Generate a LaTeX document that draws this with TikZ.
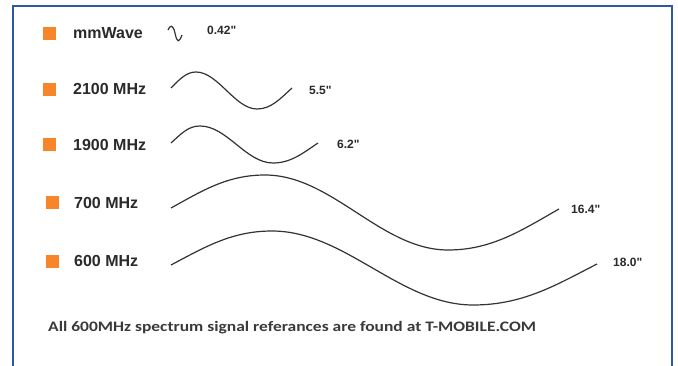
\documentclass[tikz,border=0pt]{standalone}
\usepackage{fontspec}
\setmainfont{Liberation Sans}
\newfontfamily\footfont[FakeStretch=1.205]{Carlito}
\newfontfamily\measfont[Ligatures=TeXOff]{Liberation Sans}
\definecolor{frameblue}{HTML}{2E58A6}
\definecolor{bulletorange}{HTML}{F7862A}
\definecolor{labgray}{HTML}{2A2A2A}
\definecolor{wavegray}{HTML}{333333}
\definecolor{footgray}{HTML}{3A3A3A}
\begin{document}
\begin{tikzpicture}[x=1pt,y=-1pt,
  bullet/.style={fill=bulletorange,draw=none,minimum size=13pt,inner sep=0pt},
  lab/.style={font=\bfseries\fontsize{16}{18}\selectfont,text=labgray,anchor=west,inner sep=0pt},
  meas/.style={font=\measfont\bfseries\fontsize{12}{14}\selectfont,text=labgray,anchor=west,inner sep=0pt},
  foot/.style={font=\footfont\bfseries\fontsize{14.5}{17}\selectfont,text=footgray,anchor=base west,inner sep=0pt},
  wave/.style={draw=wavegray,line width=1.2pt},
  frame/.style={draw=frameblue,line width=2.5pt}]
\useasboundingbox (0,0) rectangle (678,366);
\fill[white] (0,0) rectangle (678,366);
% frame
\draw[frame] (13,372) -- (13,6) -- (672,6) -- (672,372);
% bullets and labels
\node[bullet] (b1) at (49.5,33.5) {};
\node[lab] (l1) at (73,33.5) {mmWave};
\node[bullet] (b2) at (49.5,89.5) {};
\node[lab] (l2) at (73,89) {2100 MHz};
\node[bullet] (b3) at (49.5,144.5) {};
\node[lab] (l3) at (73,144.5) {1900 MHz};
\node[bullet] (b4) at (52.5,202.5) {};
\node[lab] (l4) at (74,202.5) {700 MHz};
\node[bullet] (b5) at (52.5,261.5) {};
\node[lab] (l5) at (74,261) {600 MHz};
% measurements
\node[meas] (m1) at (207,30.5) {0.42"};
\node[meas] (m2) at (309,90) {5.5"};
\node[meas] (m3) at (337,144) {6.2"};
\node[meas] (m4) at (571,209) {16.4"};
\node[meas] (m5) at (613,262) {18.0"};
% waves
\draw[wave] (168,30) .. controls (170,25) and (173,24) .. (175,33) .. controls (177,43) and (179,43) .. (182,35);
\draw[wave] (171,88) .. controls (179,80) and (186,72) .. (196,72)
  .. controls (218,72) and (235,109) .. (257,109)
  .. controls (271,109) and (280,99) .. (292,88);
\draw[wave] (171,143) .. controls (181,134) and (188,126) .. (200,126)
  .. controls (227,126) and (246,163) .. (273,163)
  .. controls (291,163) and (303,153) .. (318,143);
\draw[wave] (171,208) .. controls (202,191) and (227,175) .. (265,175)
  .. controls (332,175) and (381,250) .. (448,250)
  .. controls (492,250) and (522,230) .. (559,209);
\draw[wave] (171,265) .. controls (205,247) and (232,231) .. (272,231)
  .. controls (345,231) and (400,305) .. (473,305)
  .. controls (523,305) and (556,285) .. (597,264);
% footer
\node[foot] (ft) at (48,331) {All 600MHz spectrum signal referances are found at T-MOBILE.COM};
\end{tikzpicture}
\end{document}
